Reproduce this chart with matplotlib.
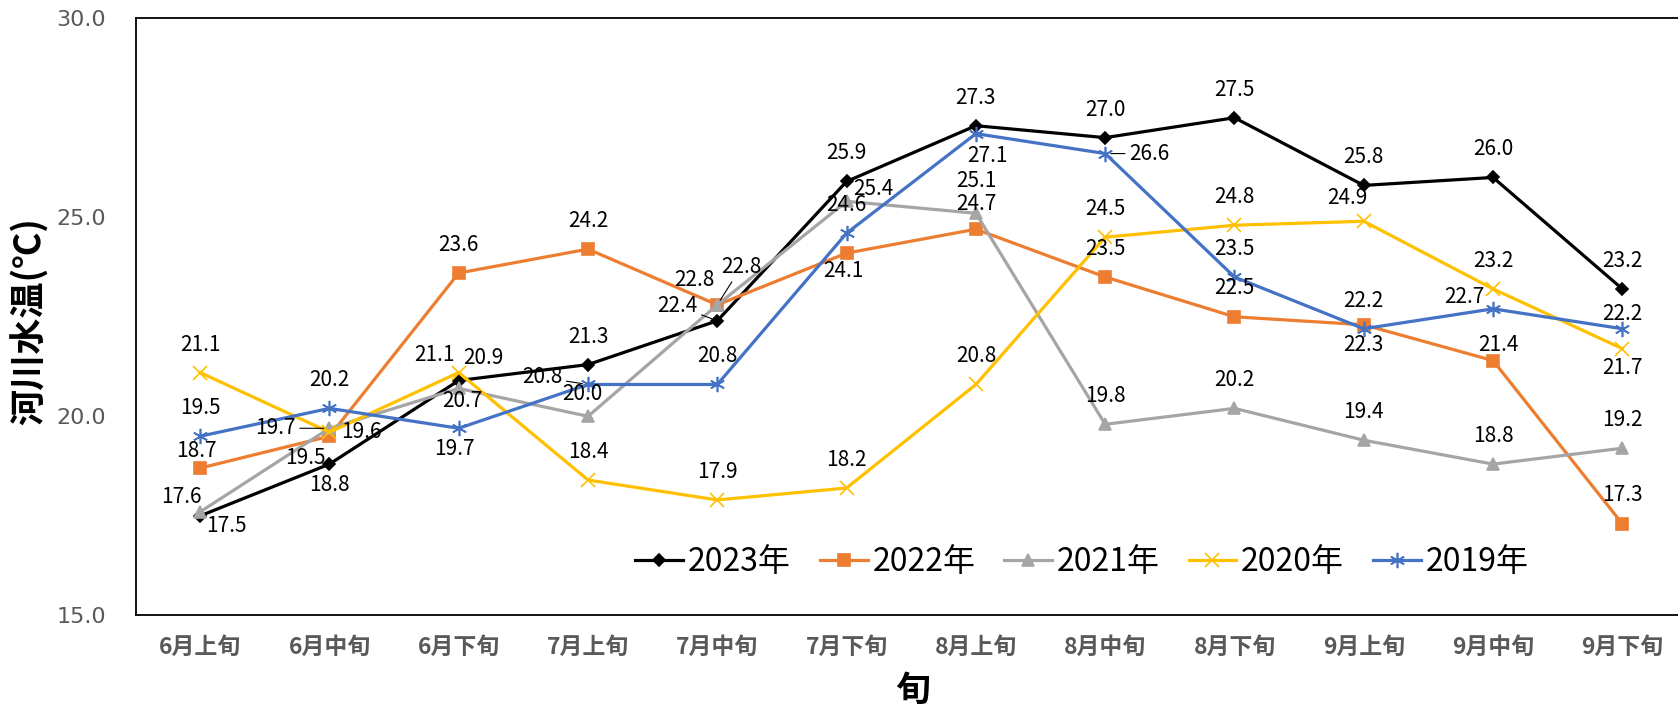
import numpy as np
import matplotlib.pyplot as plt

plt.rcParams['font.family'] = ['Noto Sans CJK SC', 'DejaVu Sans']

#===========================================
# data
periods = ['6月上旬', '6月中旬', '6月下旬', '7月上旬', '7月中旬', '7月下旬',
           '8月上旬', '8月中旬', '8月下旬', '9月上旬', '9月中旬', '9月下旬']
years = ['2023年', '2022年', '2021年', '2020年', '2019年']

t2023 = [17.5, 18.8, 20.9, 21.3, 22.4, 25.9, 27.3, 27.0, 27.5, 25.8, 26.0, 23.2]
t2022 = [18.7, 19.5, 23.6, 24.2, 22.8, 24.1, 24.7, 23.5, 22.5, 22.3, 21.4, 17.3]
t2021 = [17.6, 19.7, 20.7, 20.0, 22.8, 25.4, 25.1, 19.8, 20.2, 19.4, 18.8, 19.2]
t2020 = [21.1, 19.6, 21.1, 18.4, 17.9, 18.2, 20.8, 24.5, 24.8, 24.9, 23.2, 21.7]
t2019 = [19.5, 20.2, 19.7, 20.8, 20.8, 24.6, 27.1, 26.6, 23.5, 22.2, 22.7, 22.2]

#===========================================
# styles
colors = ['#000000', '#ED7D31', '#A5A5A5', '#FFC000', '#4472C4']
markers = ['D', 's', '^', 'x', (6, 2, 0)]
msizes = [6, 9, 9, 10, 11]

# label offsets in pixels (dx, dy); L = draw leader line
A = (0, 28)
B = (0, -21)
offsets = [
    [(26, -10), B, (25, 23), A, (-40, 15, 'L'), A, A, A, A, A, A, A],
    [(-4, 17), (-24, -22), A, A, (-23, 25), (-3, -18), (0, 25), (0, 28), (0, 29), (0, -20), (5, 16), (0, 29)],
    [(-19, 15), (-54, 0, 'L'), (4, -13), (-6, 22), (24, 38, 'L'), (27, 12), (0, 32), A, A, A, A, A],
    [A, (32, 0), (-24, 18), A, A, A, A, A, A, (-16, 23), A, (0, -19)],
    [A, A, (-4, -21), (-46, 7, 'L'), A, A, (12, -22), (44, 0, 'L'), A, A, (-29, 12), (0, 15)],
]

#===========================================
fig = plt.figure(figsize=(16.78, 7.09), dpi=100)
ax = fig.add_axes([135.5 / 1678, 1 - 615.4 / 709, 1551.5 / 1678, (615.4 - 18.2) / 709])

x = np.arange(len(periods))
series = [t2023, t2022, t2021, t2020, t2019]
for k, vals in enumerate(series):
    ax.plot(x, vals, color=colors[k], lw=2.3, marker=markers[k], ms=msizes[k],
            mfc=colors[k], mec=colors[k], mew=1.2, label=years[k], zorder=3 + k * 0.1)
    for i, v in enumerate(vals):
        off = offsets[k][i]
        kw = {}
        if len(off) == 3:
            kw['arrowprops'] = dict(arrowstyle='-', color='black', lw=0.8,
                                    shrinkA=1, shrinkB=4)
        ax.annotate('%.1f' % v, (i, v), xytext=(off[0], off[1]),
                    textcoords='offset pixels', ha='center', va='center',
                    fontsize=15, color='black', zorder=6, **kw)

ax.set_xlim(-0.5, 11.5)
ax.set_ylim(15, 30)
ax.set_yticks([15, 20, 25, 30])
ax.set_yticklabels(['%.1f' % t for t in [15, 20, 25, 30]],
                   family='DejaVu Sans', fontsize=16, color='#595959')
ax.set_xticks(x)
ax.set_xticklabels(periods, fontsize=16.5, fontweight='bold', color='#595959')
ax.tick_params(axis='y', length=0, pad=21)
ax.tick_params(axis='x', length=0, pad=15)
for sp in ax.spines.values():
    sp.set_linewidth(1.3)
    sp.set_color('black')

fig.text(30 / 1678, 1 - 321 / 709, '河川水温(℃)', rotation=90, ha='center',
         va='center', fontsize=26, fontweight='bold')
fig.text(913 / 1678, 1 - 690 / 709, '旬', ha='center', va='center',
         fontsize=25, fontweight='bold')

leg = ax.legend(loc='center', bbox_to_anchor=(1082 / 1678, 1 - 562 / 709),
                bbox_transform=fig.transFigure, ncol=5, frameon=False,
                fontsize=23, handlelength=1.5, handletextpad=0.15,
                columnspacing=0.9, borderpad=0)

fig.savefig('out.png', dpi=100)
